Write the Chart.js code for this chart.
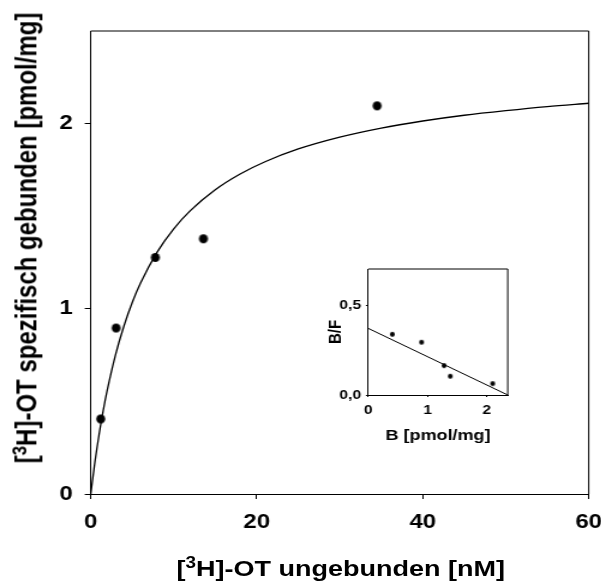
<!DOCTYPE html>
<html><head><meta charset="utf-8">
<script src="https://cdn.jsdelivr.net/npm/chart.js@4/dist/chart.umd.min.js"></script>
<style>
html,body{margin:0;padding:0;background:#fff;overflow:hidden;width:601px;height:587px;}
#stage{position:absolute;left:0;top:0;width:540px;height:587px;transform:scaleX(1.2);transform-origin:0 0;}
#main{position:absolute;left:0;top:0;}
#inset{position:absolute;left:260px;top:255px;}
.t{position:absolute;font-family:"Liberation Sans",Arial,sans-serif;font-weight:bold;color:#000;white-space:nowrap;line-height:1;}
.t sup{font-size:0.7em;vertical-align:0;position:relative;top:-0.5em;}
#xt{left:284px;top:569px;transform:translate(-50%,-50%);font-size:22.5px;}
#yt{left:22px;top:238px;transform:translate(-50%,-50%) rotate(-90deg);font-size:24px;}
</style></head>
<body>
<div id="stage">
<canvas id="main" width="540" height="587"></canvas>
<canvas id="inset" width="180" height="200"></canvas>
<div class="t" id="xt">[<sup>3</sup>H]-OT ungebunden [nM]</div>
<div class="t" id="yt">[<sup>3</sup>H]-OT spezifisch gebunden [pmol/mg]</div>
</div>
<script>
// ---- main chart data ----
const freeConc   = [1.2, 3.05, 7.78, 13.57, 34.5];
const boundSpec  = [0.405, 0.896, 1.277, 1.378, 2.096];
const curveX = [0, 0.5, 1, 1.5, 2, 3, 4, 5, 6, 8, 10, 12, 15, 18, 21, 25, 30, 35, 40, 45, 50, 55, 60];
const curveY = [0, 0.172, 0.320, 0.450, 0.563, 0.754, 0.907, 1.034, 1.139, 1.306, 1.432, 1.530, 1.643, 1.728, 1.794, 1.863, 1.927, 1.976, 2.014, 2.045, 2.070, 2.092, 2.110];
const mainXTicks = [0, 20, 40, 60];
const mainXLabels = ['0', '20', '40', '60'];
const mainYTicks = [0, 1, 2];
const mainYLabels = ['0', '1', '2'];

// ---- inset (Scatchard) data ----
const insetB  = [0.405, 0.90, 1.28, 1.385, 2.10];
const insetBF = [0.337, 0.293, 0.163, 0.104, 0.063];
const insetLineX = [0, 2.355];
const insetLineY = [0.37, 0];
const insetXTicks = [0, 1, 2];
const insetXLabels = ['0', '1', '2'];
const insetYTicks = [0, 0.5];
const insetYLabels = ['0,0', '0,5'];

const FONT = '"Liberation Sans", Arial, sans-serif';
const STRETCH = 1.2;

// round dot marker that stays round after the horizontal page stretch
function dot(r) {
  const c = document.createElement('canvas');
  const w = Math.ceil(2 * r / STRETCH) + 2, h = Math.ceil(2 * r) + 2;
  c.width = w; c.height = h;
  const g = c.getContext('2d');
  g.fillStyle = '#000';
  g.beginPath();
  g.ellipse(w / 2, h / 2, r / STRETCH, r, 0, 0, Math.PI * 2);
  g.fill();
  return c;
}

const framePlugin = {
  id: 'frame',
  afterDraw(chart) {
    const {ctx, chartArea: a} = chart;
    ctx.save();
    ctx.strokeStyle = '#000';
    ctx.lineWidth = 1;
    ctx.beginPath();
    ctx.moveTo(a.left, a.top);
    ctx.lineTo(a.right, a.top);
    ctx.lineTo(a.right, a.bottom);
    ctx.stroke();
    ctx.restore();
  }
};

function axis(min, max, ticks, labels, fontSize, pad, tickLen, fitSize, horiz, extra) {
  const o = {
    type: 'linear', min: min, max: max,
    ticks: {
      color: '#000', padding: pad,
      font: {family: FONT, size: fontSize, weight: 'bold'},
      callback: (v) => { const i = ticks.indexOf(v); return i >= 0 ? labels[i] : ''; }
    },
    grid: {display: true, drawOnChartArea: false, drawTicks: true, tickLength: tickLen, color: '#000', lineWidth: 1},
    border: {display: true, color: '#000', width: 1},
    afterBuildTicks: (s) => { s.ticks = ticks.map(v => ({value: v})); },
    afterFit: (s) => { if (horiz) s.height = fitSize; else s.width = fitSize; }
  };
  return Object.assign(o, extra || {});
}

new Chart(document.getElementById('main'), {
  type: 'scatter',
  data: {
    datasets: [
      {data: curveX.map((x, i) => ({x: x, y: curveY[i]})), showLine: true, pointRadius: 0,
       borderColor: '#000', borderWidth: 1.3, cubicInterpolationMode: 'monotone', fill: false},
      {data: freeConc.map((x, i) => ({x: x, y: boundSpec[i]})), showLine: false,
       pointStyle: dot(4.5), pointRadius: 4.5}
    ]
  },
  options: {
    responsive: false, animation: false, events: [],
    layout: {padding: {left: 0, top: 31, right: 49.4, bottom: 0}},
    plugins: {legend: {display: false}, tooltip: {enabled: false}},
    scales: {
      x: axis(0, 60, mainXTicks, mainXLabels, 20, 11, 5, 93, true),
      y: axis(0, 2.5, mainYTicks, mainYLabels, 20, 10, 5, 75.6, false)
    }
  },
  plugins: [framePlugin]
});

new Chart(document.getElementById('inset'), {
  type: 'scatter',
  data: {
    datasets: [
      {data: insetLineX.map((x, i) => ({x: x, y: insetLineY[i]})), showLine: true, pointRadius: 0,
       borderColor: '#000', borderWidth: 1, fill: false},
      {data: insetB.map((x, i) => ({x: x, y: insetBF[i]})), showLine: false,
       pointStyle: dot(2.4), pointRadius: 2.4}
    ]
  },
  options: {
    responsive: false, animation: false, events: [],
    layout: {padding: {left: 0, top: 14, right: 16.9, bottom: 0}},
    plugins: {legend: {display: false}, tooltip: {enabled: false}},
    scales: {
      x: axis(0, 2.355, insetXTicks, insetXLabels, 13, 6, 2, 60, true,
        {title: {display: true, text: 'B [pmol/mg]', color: '#000', padding: {top: 10, bottom: 10},
                 font: {family: FONT, size: 15, weight: 'bold'}}}),
      y: axis(0, 0.7, insetYTicks, insetYLabels, 13, 4, 2, 46.9, false,
        {title: {display: true, text: 'B/F', color: '#000', padding: {top: 11, bottom: 11},
                 font: {family: FONT, size: 15, weight: 'bold'}}})
    }
  },
  plugins: [framePlugin]
});
</script>
</body></html>
